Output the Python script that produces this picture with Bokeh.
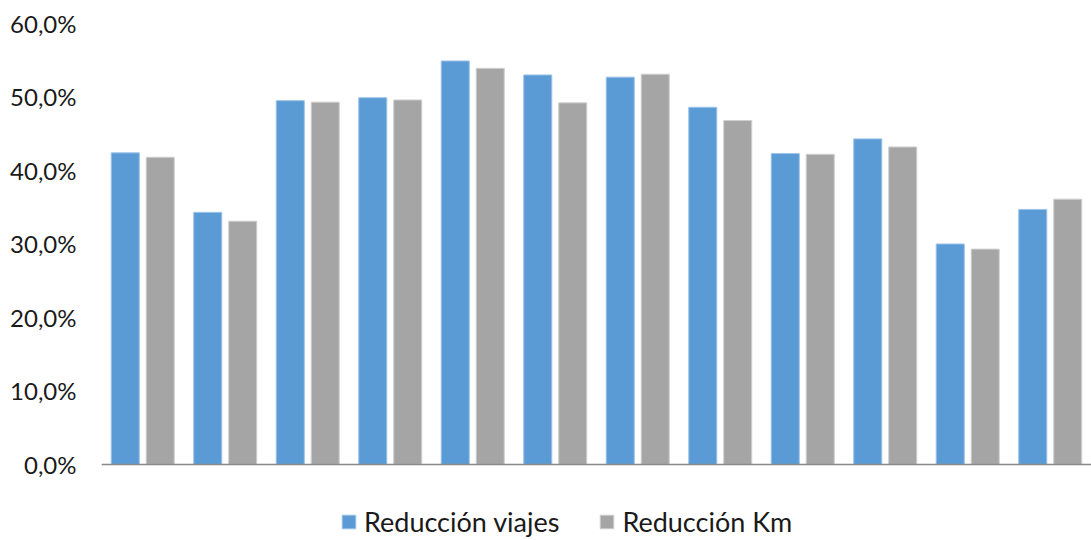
from bokeh.plotting import figure
from bokeh.models import FactorRange, ColumnDataSource, FixedTicker, Legend, LegendItem, Span, Range1d
from bokeh.transform import dodge
from bokeh.embed import file_html
from bokeh.resources import INLINE

# Twelve periods, two reduction measures (percent)
grupos = [str(i) for i in range(1, 13)]
reduccion_viajes = [42.4, 34.3, 49.5, 49.9, 54.9, 53.0, 52.7, 48.6, 42.3, 44.3, 30.0, 34.7]
reduccion_km = [41.8, 33.1, 49.3, 49.6, 53.9, 49.2, 53.1, 46.8, 42.2, 43.2, 29.3, 36.1]
series = ["Reducción viajes", "Reducción Km"]
colores = ["#5B9BD5", "#A5A5A5"]
y_ticks = [0, 10, 20, 30, 40, 50, 60]

src = ColumnDataSource(dict(g=grupos, v=reduccion_viajes, k=reduccion_km))

# The frame reaches the bottom edge so the legend can sit below the baseline
p = figure(width=1091, height=540, x_range=FactorRange(*grupos, range_padding=0),
           y_range=Range1d(-10.35, 60), output_backend="svg", toolbar_location=None,
           min_border_left=101, min_border_right=0, min_border_top=23, min_border_bottom=0)
p.outline_line_color = None
p.grid.visible = False
p.xaxis.visible = False
p.background_fill_color = "white"
p.border_fill_color = "white"

r1 = p.vbar(x=dodge("g", -0.212, range=p.x_range), bottom=0, top="v", width=0.34, source=src,
            fill_color=colores[0], line_color="#9CC3E8", line_width=1)
r2 = p.vbar(x=dodge("g", 0.212, range=p.x_range), bottom=0, top="k", width=0.34, source=src,
            fill_color=colores[1], line_color="#D0D0D0", line_width=1)

# category baseline
p.add_layout(Span(location=0, dimension="width", line_color="#888888", line_width=1.5))

# y axis: labels only, comma decimal
p.yaxis.ticker = FixedTicker(ticks=y_ticks)
p.yaxis.major_label_overrides = {t: f"{t:.1f}".replace(".", ",") + "%" for t in y_ticks}
p.yaxis.axis_line_color = None
p.yaxis.major_tick_line_color = None
p.yaxis.minor_tick_line_color = None
p.yaxis.major_tick_out = 0
p.yaxis.major_tick_in = 0
p.yaxis.major_label_standoff = 25
p.yaxis.major_label_text_font = "Lato"
p.yaxis.major_label_text_font_size = "24px"
p.yaxis.major_label_text_color = "#1a1a1a"

legend = Legend(items=[LegendItem(label=series[0], renderers=[r1]),
                       LegendItem(label=series[1], renderers=[r2])],
                orientation="horizontal", location=(239, 2))
legend.label_text_font = "Lato"
legend.label_text_font_size = "27px"
legend.label_text_color = "#1a1a1a"
legend.glyph_width = 17
legend.glyph_height = 17
legend.label_height = 17
legend.label_standoff = 7
legend.spacing = 39
legend.padding = 0
legend.margin = 0
legend.border_line_color = None
legend.background_fill_alpha = 0
p.add_layout(legend, "center")

open("out.html", "w").write(file_html(p, INLINE))
